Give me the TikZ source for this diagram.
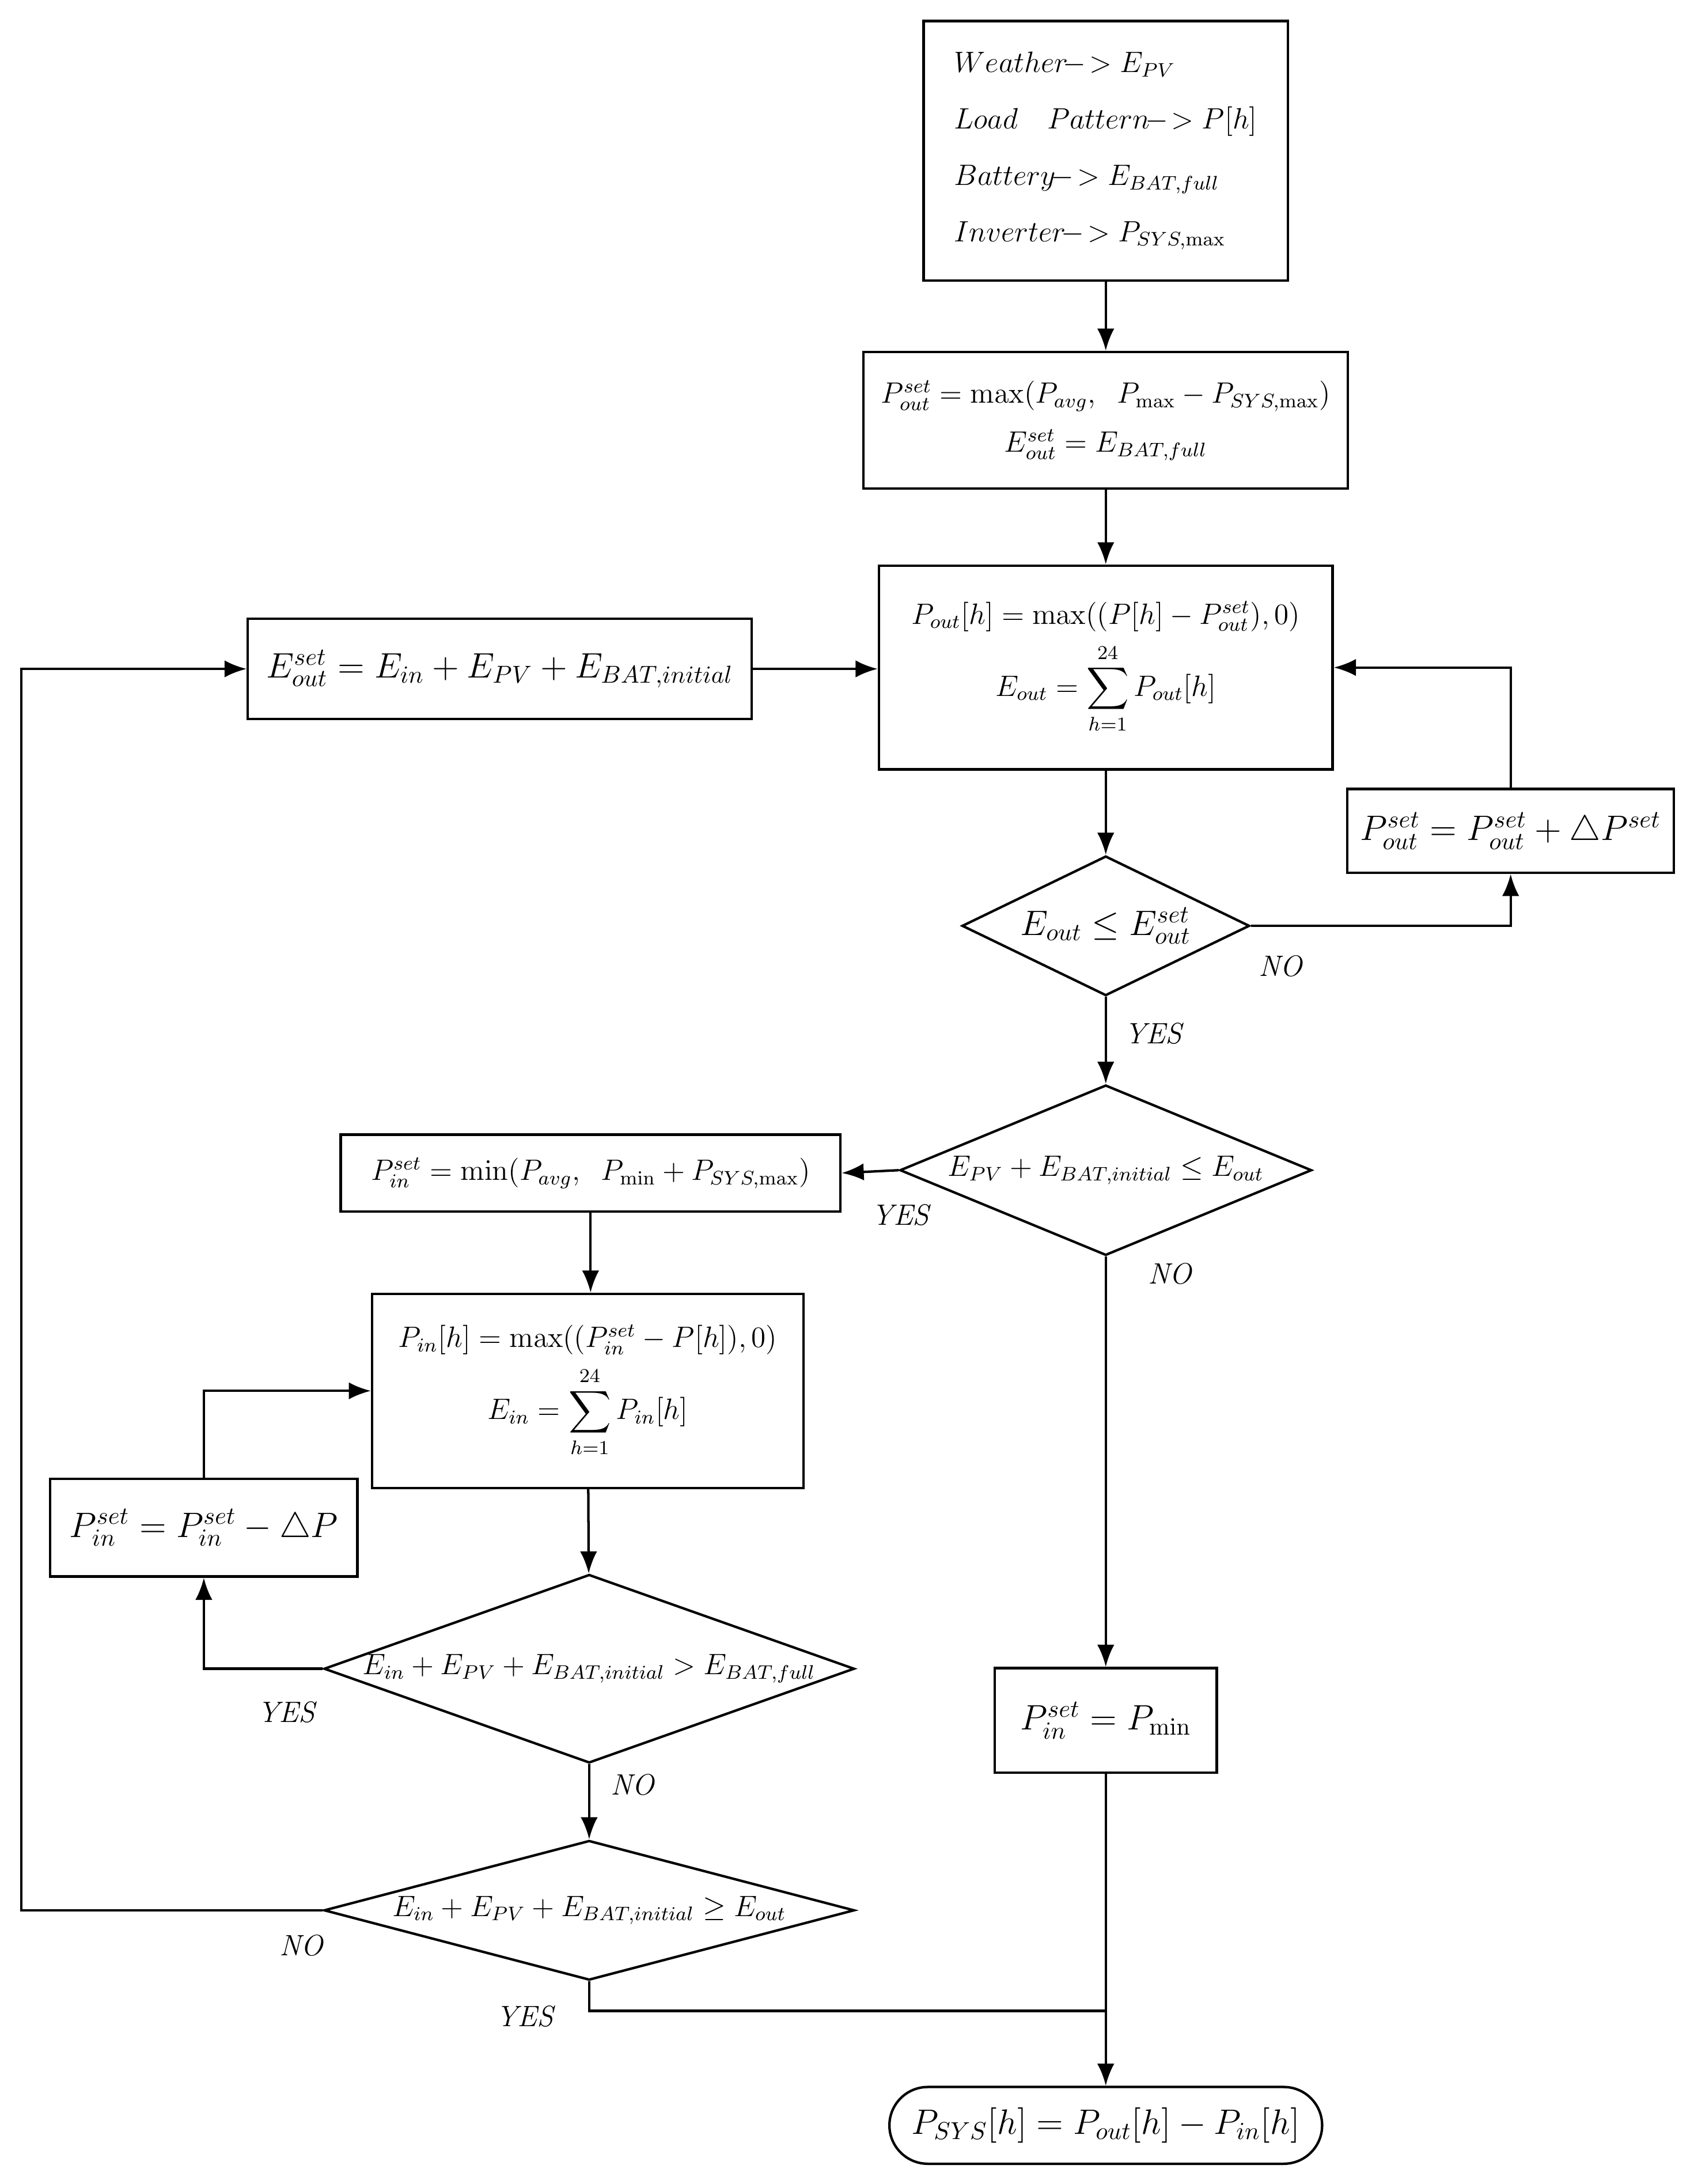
\documentclass[tikz,border=0pt]{standalone}
\usepackage{amsmath}
\usepackage{amssymb}
\usetikzlibrary{shapes.geometric,arrows.meta}

\tikzset{
 box/.style={draw,line width=1pt,inner sep=2pt,align=center,font=\large},
 dia/.style={draw,diamond,line width=1pt,inner sep=0pt,font=\large},
 term/.style={draw,line width=1pt,rounded corners=0.55cm,font=\Large},
 lbl/.style={font=\large\itshape},
 flow/.style={line width=1pt,-{Latex[length=9pt,width=7pt]}},
 line/.style={line width=1pt}
}

\begin{document}
\begin{tikzpicture}[x=0.02cm,y=-0.02cm]
 \useasboundingbox (0,0) rectangle (1213,1564);

 \node[box,minimum width=5.22cm,minimum height=3.72cm,align=left] (inp) at (792,108)
  {$Weather\!-\!>E_{PV}$\\[9pt] $Load\quad Pattern\!-\!>P[h]$\\[9pt]
   $Battery\!-\!>E_{BAT,full}$\\[9pt] $Inverter\!-\!>P_{SYS,\max}$};

 \node[box,minimum width=6.94cm,minimum height=1.96cm] (pset) at (792,301)
  {$P_{out}^{set}=\max(P_{avg},\;\; P_{\max}-P_{SYS,\max})$\\[6pt] $E_{out}^{set}=E_{BAT,full}$};

 \node[box,minimum width=6.5cm,minimum height=2.92cm] (pout) at (792,478)
  {$P_{out}[h]=\max((P[h]-P_{out}^{set}),0)$\\[4pt] $\displaystyle E_{out}=\sum_{h=1}^{24}P_{out}[h]$};

 \node[box,font=\Large,minimum width=7.22cm,minimum height=1.44cm] (eset) at (358,479)
  {$E_{out}^{set}=E_{in}+E_{PV}+E_{BAT,initial}$};

 \node[box,font=\Large,minimum width=4.68cm,minimum height=1.2cm] (pinc) at (1082,595)
  {$P_{out}^{set}=P_{out}^{set}+\triangle P^{set}$};

 \node[dia,minimum width=4.12cm,minimum height=2cm,
  label={center:\Large$E_{out}\le E_{out}^{set}$}] (d1) at (792,663) {};

 \node[dia,minimum width=5.9cm,minimum height=2.44cm,
  label={center:\large$E_{PV}+E_{BAT,initial}\le E_{out}$}] (d2) at (792,838) {};

 \node[box,minimum width=7.16cm,minimum height=1.1cm] (pinset) at (423,840)
  {$P_{in}^{set}=\min(P_{avg},\;\; P_{\min}+P_{SYS,\max})$};

 \node[box,minimum width=6.18cm,minimum height=2.78cm] (pin) at (421,996)
  {$P_{in}[h]=\max((P_{in}^{set}-P[h]),0)$\\[4pt] $\displaystyle E_{in}=\sum_{h=1}^{24}P_{in}[h]$};

 \node[box,font=\Large,minimum width=4.4cm,minimum height=1.4cm] (pdec) at (146,1094)
  {$P_{in}^{set}=P_{in}^{set}-\triangle P$};

 \node[dia,minimum width=7.6cm,minimum height=2.7cm,
  label={center:\large$E_{in}+E_{PV}+E_{BAT,initial}>E_{BAT,full}$}] (d3) at (422,1195) {};

 \node[box,font=\Large,minimum width=3.18cm,minimum height=1.5cm] (pmin) at (792,1232)
  {$P_{in}^{set}=P_{\min}$};

 \node[dia,minimum width=7.6cm,minimum height=2cm,
  label={center:\large$E_{in}+E_{PV}+E_{BAT,initial}\ge E_{out}$}] (d4) at (422,1368) {};

 \node[term,minimum width=6.2cm,minimum height=1.1cm] (psys) at (792,1522)
  {$P_{SYS}[h]=P_{out}[h]-P_{in}[h]$};

 \coordinate (j1) at (792,1440);

 \draw[flow] (inp) -- (pset);
 \draw[flow] (pset) -- (pout);
 \draw[flow] (pout) -- (d1);
 \draw[flow] (d1.east) -| (pinc.south);
 \draw[flow] (pinc.north) |- (pout.east);
 \draw[flow] (eset) -- (pout.west |- eset);
 \draw[flow] (d1) -- (d2);
 \draw[flow] (d2.west) -- (pinset.east);
 \draw[flow] (d2) -- (pmin);
 \draw[flow] (pinset) -- (pin.north -| pinset);
 \draw[flow] (pin) -- (d3);
 \draw[flow] (d3.west) -| (pdec.south);
 \draw[flow] (pdec.north) |- (pin.west);
 \draw[flow] (d3) -- (d4);
 \draw[flow] (d4.west) -- ++(-216,0) |- (eset.west);
 \draw[line] (d4.south) |- (j1);
 \draw[flow] (pmin) -- (psys);

 \node[lbl] (l1) at (917,692) {NO};
 \node[lbl] (l2) at (826,740) {YES};
 \node[lbl] (l3) at (645,870) {YES};
 \node[lbl] (l4) at (838,912) {NO};
 \node[lbl] (l5) at (205,1226) {YES};
 \node[lbl] (l6) at (453,1278) {NO};
 \node[lbl] (l7) at (216,1393) {NO};
 \node[lbl] (l8) at (376,1444) {YES};
\end{tikzpicture}
\end{document}
